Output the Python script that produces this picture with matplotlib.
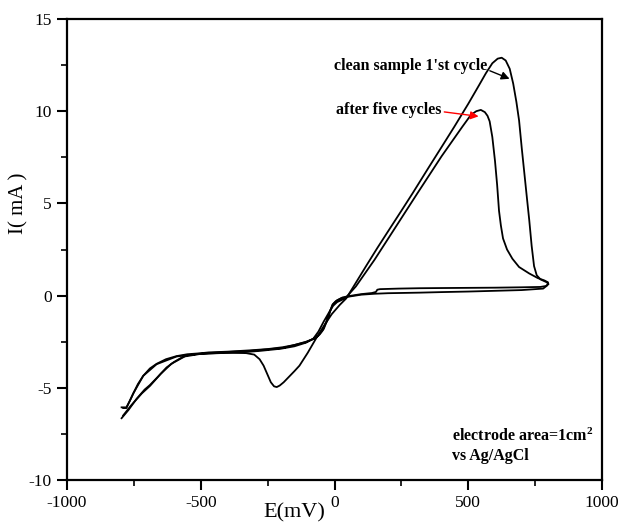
'''
Cyclic voltammetry plot

Plot the current against the potential for a clean sample (1st cycle) and
for the same sample after five cycles.
'''

# -----------------------------------------------------------------------------
# Modules

from matplotlib import pyplot as plt
from matplotlib.ticker import MultipleLocator

# -----------------------------------------------------------------------------
# Data (E in mV, I in mA)

clean_e = [-796, -770, -740, -710, -690, -660, -628, -600, -570, -553, -520,
           -480, -430, -380, -330, -300, -280, -265, -250, -238, -226, -216,
           -205, -190, -170, -150, -131, -100, -68, -40, -10, 20, 44, 80, 118,
           160, 200, 250, 292, 350, 400, 448, 500, 540, 566, 590, 610, 625,
           640, 655, 668, 680, 690, 700, 710, 720, 728, 737, 746, 756, 770,
           785, 797,
           800, 790, 770, 700, 600, 500, 400, 317, 240, 170, 160, 155, 140,
           100, 56, 30, 10, -5, -15, -25, -40, -55, -70, -106, -150, -194,
           -250, -317, -400, -470, -504, -550, -590, -630, -665, -690, -715,
           -735, -752, -765, -778, -796]
clean_i = [-6.65, -6.2, -5.6, -5.1, -4.85, -4.4, -3.9, -3.6, -3.35, -3.25,
           -3.18, -3.14, -3.11, -3.1, -3.12, -3.2, -3.45, -3.8, -4.3, -4.7,
           -4.92, -4.96, -4.88, -4.7, -4.4, -4.1, -3.8, -3.1, -2.3, -1.65,
           -1.0, -0.5, -0.15, 0.7, 1.6, 2.58, 3.48, 4.6, 5.55, 6.9, 8.05,
           9.16, 10.4, 11.4, 12.06, 12.6, 12.85, 12.9, 12.75, 12.3, 11.5,
           10.5, 9.5, 8.0, 6.6, 5.2, 4.1, 2.7, 1.6, 1.1, 0.88, 0.78, 0.7,
           0.62, 0.52, 0.47, 0.45, 0.43, 0.42, 0.41, 0.4, 0.38, 0.35, 0.32,
           0.2, 0.14, 0.08, -0.02, -0.1, -0.25, -0.45, -0.8, -1.25, -1.8,
           -2.1, -2.3, -2.5, -2.68, -2.8, -2.9, -2.97, -3.04, -3.08, -3.13,
           -3.18, -3.28, -3.45, -3.7, -3.95, -4.35, -4.8, -5.3, -5.7, -6.06,
           -6.06]

five_e = [-790, -760, -720, -690, -650, -610, -560, -500, -430, -350, -280,
          -200, -150, -106, -80, -60, -40, -20, -5, 10, 40, 80, 149, 230, 310,
          400, 478, 510, 530, 547, 562, 572, 580, 590, 600, 608, 615, 622,
          630, 645, 665, 690, 728, 760, 785, 798,
          795, 780, 700, 600, 500, 400, 317, 200, 150, 100, 56, 25, 5, -8,
          -18, -30, -45, -60, -80, -106, -194, -317, -430, -504, -590, -665,
          -715, -752, -778, -790]
five_i = [-6.5, -5.95, -5.3, -4.9, -4.25, -3.7, -3.3, -3.16, -3.12, -3.08,
          -3.0, -2.88, -2.75, -2.55, -2.35, -1.95, -1.4, -0.9, -0.55, -0.35,
          -0.15, 0.5, 1.93, 3.75, 5.55, 7.55, 9.16, 9.8, 10.0, 10.07, 9.95,
          9.75, 9.45, 8.6, 7.3, 6.0, 4.6, 3.8, 3.1, 2.5, 2.0, 1.55, 1.2, 0.95,
          0.82, 0.72,
          0.55, 0.38, 0.3, 0.26, 0.22, 0.19, 0.16, 0.13, 0.1, 0.05, -0.05,
          -0.15, -0.3, -0.5, -0.9, -1.4, -1.9, -2.15, -2.35, -2.52, -2.84,
          -3.0, -3.08, -3.15, -3.3, -3.72, -4.35, -5.3, -6.1, -6.1]

clean_label = "clean sample 1'st cycle"
five_label = 'after five cycles'
note_lines = ['electrode area=1cm$^2$', 'vs Ag/AgCl']

# -----------------------------------------------------------------------------
# Plotting

plt.rcParams['font.family'] = ['Liberation Serif', 'DejaVu Serif']
plt.rcParams['axes.unicode_minus'] = False
plt.rcParams['mathtext.fontset'] = 'custom'
plt.rcParams['mathtext.rm'] = 'Liberation Serif:bold'
plt.rcParams['mathtext.it'] = 'Liberation Serif:bold'

figure = plt.figure(figsize=(6.21, 5.29), dpi=100)
ax = figure.add_axes([67 / 621, 1 - 480 / 529, 535 / 621, 461 / 529])

ax.plot(clean_e, clean_i, color='black', linewidth=1.3)
ax.plot(five_e, five_i, color='black', linewidth=1.3)

ax.set_xlim(-1000, 1000)
ax.set_ylim(-10, 15)
ax.xaxis.set_major_locator(MultipleLocator(500))
ax.xaxis.set_minor_locator(MultipleLocator(250))
ax.yaxis.set_major_locator(MultipleLocator(5))
ax.yaxis.set_minor_locator(MultipleLocator(2.5))
ax.tick_params(which='major', direction='out', length=7, width=1.5,
               labelsize=12.5, pad=4, top=False, right=False)
ax.tick_params(which='minor', direction='out', length=4, width=1.2,
               top=False, right=False)
for spine in ax.spines.values():
    spine.set_linewidth(1.6)

ax.set_xlabel('E(mV)', fontsize=16)
ax.xaxis.set_label_coords(0.424, -0.05)
ax.set_ylabel('I( mA )', fontsize=15)
ax.yaxis.set_label_coords(-0.072, 0.6)

# Labels and arrows

ax.text(0, 12.25, clean_label, fontsize=11.5, fontweight='bold')
ax.annotate('', xy=(664, 11.7), xytext=(571, 12.25),
            arrowprops=dict(arrowstyle='-|>', color='black', lw=1,
                            mutation_scale=12))
ax.text(4, 9.85, five_label, fontsize=11.5, fontweight='bold')
ax.annotate('', xy=(549, 9.7), xytext=(400, 9.98),
            arrowprops=dict(arrowstyle='-|>', color='red', lw=1,
                            mutation_scale=12))

ax.text(440, -7.9, note_lines[0], fontsize=11.5, fontweight='bold')
ax.text(440, -8.9, note_lines[1], fontsize=11.5, fontweight='bold')

figure.savefig('out.png', dpi=100)
